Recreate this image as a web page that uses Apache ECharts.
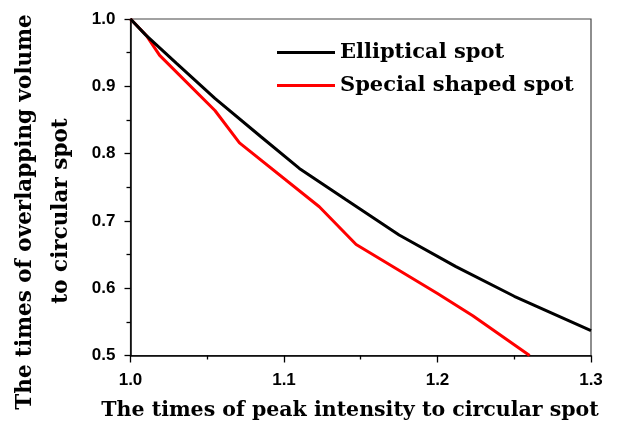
<!DOCTYPE html>
<html>
<head>
<meta charset="utf-8">
<script src="https://cdn.jsdelivr.net/npm/echarts@6/dist/echarts.min.js"></script>
<style>
html,body{margin:0;padding:0;background:#fff;}
#chart{width:631px;height:428px;}
</style>
</head>
<body>
<div id="chart"></div>
<script>
// Data
var ellipticalX = [1.0, 1.01, 1.03, 1.055, 1.085, 1.11, 1.14, 1.175, 1.212, 1.25, 1.3];
var ellipticalY = [1.0, 0.976, 0.934, 0.882, 0.825, 0.778, 0.732, 0.679, 0.632, 0.588, 0.537];
var specialX = [1.0, 1.0105, 1.019, 1.055, 1.071, 1.123, 1.147, 1.2, 1.223, 1.26];
var specialY = [1.0, 0.975, 0.946, 0.864, 0.816, 0.721, 0.665, 0.592, 0.559, 0.5];
var seriesNames = ['Elliptical spot', 'Special shaped spot'];
var xTitle = 'The times of peak intensity to circular spot';
var yTitleLines = ['The times of overlapping volume', 'to circular spot'];

function pairs(xs, ys) { return xs.map(function (x, i) { return [x, ys[i]]; }); }

var serifFont = '"DejaVu Serif", "Liberation Serif", serif';
var sansFont = '"Liberation Sans", Arial, sans-serif';

var chart = echarts.init(document.getElementById('chart'), null, {renderer: 'canvas'});
chart.setOption({
  animation: false,
  backgroundColor: '#fff',
  grid: {left: 130.5, right: 40, top: 19, bottom: 72.5, show: true, borderColor: '#444', borderWidth: 1.2, containLabel: false},
  legend: {
    orient: 'vertical', left: 272, top: 37, itemWidth: 58, itemHeight: 3, itemGap: 12,
    icon: 'rect',
    textStyle: {fontFamily: serifFont, fontWeight: 'bold', fontSize: 21, color: '#000', lineHeight: 21},
    data: seriesNames
  },
  xAxis: {
    type: 'value', min: 1.0, max: 1.3, interval: 0.1,
    axisLine: {lineStyle: {color: '#000', width: 1.5}},
    axisTick: {length: 7, lineStyle: {color: '#000', width: 1.3}},
    minorTick: {show: true, splitNumber: 2, length: 4, lineStyle: {color: '#000', width: 1.3}},
    splitLine: {show: false},
    axisLabel: {margin: 16, fontFamily: sansFont, fontWeight: 'bold', fontSize: 17, color: '#000',
      formatter: function (v) { return v.toFixed(1); }}
  },
  yAxis: {
    type: 'value', min: 0.5, max: 1.0, interval: 0.1,
    axisLine: {lineStyle: {color: '#000', width: 1.5}},
    axisTick: {length: 6, lineStyle: {color: '#000', width: 1.3}},
    minorTick: {show: true, splitNumber: 2, length: 4, lineStyle: {color: '#000', width: 1.3}},
    splitLine: {show: false},
    axisLabel: {margin: 15, fontFamily: sansFont, fontWeight: 'bold', fontSize: 17, color: '#000',
      formatter: function (v) { return v.toFixed(1); }}
  },
  graphic: [
    {type: 'text', x: 350, y: 411, style: {text: xTitle, fontFamily: serifFont, fontWeight: 'bold', fontSize: 20.5, fill: '#000', textAlign: 'center', textVerticalAlign: 'middle'}},
    {type: 'text', x: 25, y: 212, rotation: Math.PI / 2, style: {text: yTitleLines[0], fontFamily: serifFont, fontWeight: 'bold', fontSize: 21.5, fill: '#000', textAlign: 'center', textVerticalAlign: 'middle'}},
    {type: 'text', x: 61, y: 211, rotation: Math.PI / 2, style: {text: yTitleLines[1], fontFamily: serifFont, fontWeight: 'bold', fontSize: 21.5, fill: '#000', textAlign: 'center', textVerticalAlign: 'middle'}}
  ],
  series: [
    {name: seriesNames[0], type: 'line', data: pairs(ellipticalX, ellipticalY), symbol: 'none', color: '#000', lineStyle: {color: '#000', width: 3}, z: 3},
    {name: seriesNames[1], type: 'line', data: pairs(specialX, specialY), symbol: 'none', color: '#ff0000', lineStyle: {color: '#ff0000', width: 3}, z: 2}
  ]
});
</script>
</body>
</html>
